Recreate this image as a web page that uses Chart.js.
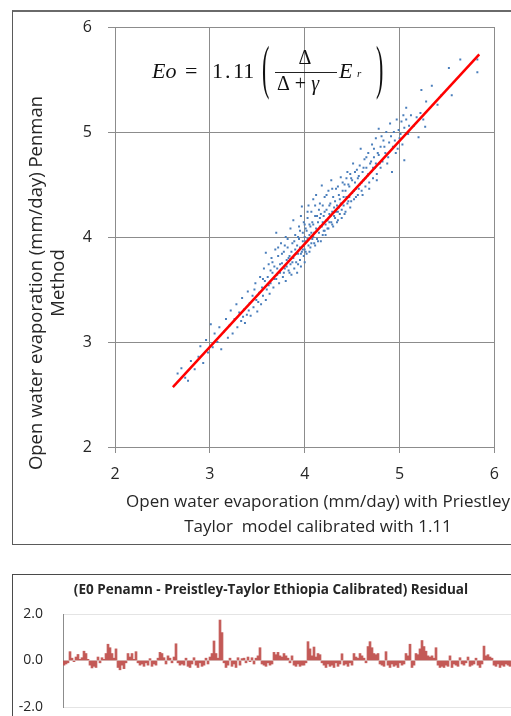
<!DOCTYPE html>
<html>
<head>
<meta charset="utf-8">
<script src="https://cdn.jsdelivr.net/npm/chart.js@4"></script>
<style>
  html, body { margin: 0; padding: 0; background: #fff; width: 511px; height: 716px; overflow: hidden; position: relative; }
  .frame { position: absolute; box-sizing: border-box; }
  #f1 { left: 12px; top: 10px; width: 540px; height: 535px; border: 1px solid #5a5a5a; border-top: 2px solid #6a6a6a; }
  #f2 { left: 12px; top: 574px; width: 540px; height: 200px; border: 1px solid #4a4a4a; }
  canvas { position: absolute; left: 0; }
  #c1 { top: 0; }
  #c2 { top: 575px; }
</style>
</head>
<body>
<div class="frame" id="f1"></div>
<div class="frame" id="f2"></div>
<canvas id="c1" width="511" height="548"></canvas>
<canvas id="c2" width="511" height="141"></canvas>
<script>
// ---------- Scatter: Priestley-Taylor (x) vs Penman (y), mm/day ----------
const ptValues = [
  2.66,2.70,2.74,2.77,2.80,2.84,2.88,2.90,2.93,2.96,2.98,3.01,3.03,3.05,3.08,3.10,3.12,3.15,3.17,3.19,
  3.21,3.22,3.24,3.26,3.28,3.29,3.31,3.33,3.34,3.36,3.37,3.39,3.40,3.42,3.43,3.45,3.46,3.48,3.49,3.50,
  3.52,3.53,3.54,3.55,3.56,3.57,3.58,3.59,3.59,3.60,
  3.61,3.62,3.63,3.64,3.65,3.66,3.67,3.68,3.69,3.70,3.70,3.71,3.72,3.73,3.74,3.75,3.76,3.77,3.78,3.79,
  3.80,3.80,3.81,3.82,3.83,3.84,3.85,3.85,3.86,3.87,3.88,3.88,3.89,3.90,3.90,3.91,3.92,3.92,3.93,3.94,
  3.94,3.95,3.95,3.96,3.96,3.97,3.97,3.98,3.98,3.99,3.99,4.00,4.00,4.00,4.00,
  4.01,4.02,4.02,4.03,4.04,4.04,4.05,4.06,4.06,4.07,4.08,4.08,4.09,4.10,4.10,4.11,4.12,4.12,4.13,4.14,
  4.15,4.15,4.16,4.17,4.18,4.18,4.19,4.20,4.20,4.21,4.22,4.22,4.23,4.24,4.25,4.25,4.26,4.27,4.28,4.28,
  4.29,4.30,4.30,4.31,4.32,4.33,4.34,4.34,4.35,4.36,4.37,4.38,4.38,4.39,4.40,
  4.41,4.42,4.43,4.44,4.45,4.46,4.47,4.48,4.49,4.50,4.51,4.52,4.53,4.54,4.55,4.56,4.57,4.58,4.59,4.60,
  4.61,4.62,4.63,4.64,4.65,4.66,4.67,4.68,4.69,4.70,4.71,4.72,4.73,4.74,4.75,4.76,4.77,4.78,4.79,4.80,
  4.82,4.83,4.85,4.86,4.88,4.89,4.90,4.92,4.93,4.94,4.95,4.97,4.98,4.99,5.00,5.02,5.03,5.05,5.05,5.07,
  5.07,5.09,5.12,5.15,5.18,
  5.20,5.22,5.23,5.25,5.27,5.28,5.34,5.40,5.44,5.52,5.55,5.64,5.82,5.82,
  3.35,3.41,3.47,3.51,3.56,3.62,3.64,3.66,3.68,3.71,3.72,3.74,3.76,3.78,3.79,3.81,3.82,3.83,3.84,3.86,
  3.87,3.89,3.91,3.93,3.93,3.95,3.96,3.98,3.99,4.01,4.01,4.03,4.03,4.05,4.05,4.07,4.07,4.09,4.09,4.11,
  4.11,4.13,4.13,4.14,4.16,4.16,4.17,4.19,4.19,4.21,4.21,4.23,4.23,4.24,4.26,4.26,4.27,4.29,4.29,4.31,
  4.32,4.33,4.35,4.35,4.36,4.37,4.39,4.40,4.41,4.42,4.43,4.44,4.45,4.46,4.47,4.48,4.49,4.50,4.52,4.53,
  4.54,4.56,4.57,4.58,4.60,4.61,4.62,4.64,4.65,4.67,4.68,4.70,4.72,4.73,4.75,4.76,4.78,4.80,4.81,4.84,
  4.87,4.91,4.96,5.01,5.04,5.10
];
const penmanValues = [
  2.70,2.75,2.66,2.63,2.82,2.74,2.86,2.96,2.80,3.02,2.90,3.17,2.95,3.08,3.00,3.14,2.93,3.10,3.22,3.04,
  3.16,3.30,3.08,3.22,3.36,3.14,3.28,3.20,3.42,3.31,3.18,3.26,3.48,3.37,3.25,3.44,3.33,3.56,3.40,3.29,
  3.47,3.62,3.36,3.52,3.44,3.70,3.58,3.85,3.40,3.50,
  3.62,3.74,3.46,3.56,3.80,3.66,3.52,3.72,3.88,4.04,3.60,3.70,3.82,3.56,3.66,3.94,3.75,3.62,3.86,3.70,
  4.00,3.58,3.78,3.90,3.68,3.82,4.08,3.74,3.64,3.94,3.80,4.16,3.70,3.88,4.02,3.76,3.92,3.66,3.84,4.10,
  3.98,3.78,3.90,4.20,3.72,4.29,3.86,3.96,4.04,3.82,3.92,4.12,3.76,3.88,4.00,
  3.96,4.06,3.84,4.18,3.92,4.30,4.02,3.90,4.10,4.24,3.98,4.14,4.36,4.04,3.94,4.20,4.08,4.40,3.98,4.14,
  4.26,4.04,4.18,3.96,4.49,4.10,4.30,4.06,4.20,4.38,4.12,4.02,4.26,4.16,4.44,4.08,4.22,4.32,4.14,4.54,
  4.24,4.10,4.38,4.28,4.18,4.46,4.30,4.14,4.24,4.40,4.22,4.57,4.32,4.18,4.44,
  4.30,4.50,4.24,4.38,4.62,4.34,4.48,4.28,4.56,4.42,4.70,4.36,4.52,4.46,4.64,4.40,4.58,4.50,4.84,4.44,
  4.62,4.54,4.74,4.48,4.66,4.58,4.80,4.52,4.70,4.62,4.88,4.56,4.76,4.66,4.94,4.60,4.80,5.03,4.70,4.86,
  4.72,4.92,4.80,5.00,4.76,4.90,5.08,4.62,4.86,5.00,4.92,5.12,4.84,5.02,4.94,5.10,4.88,4.73,5.04,5.23,
  5.12,4.98,5.16,5.06,5.14,
  4.95,5.18,5.40,5.12,5.05,5.29,5.44,5.26,5.35,5.61,5.35,5.69,5.69,5.57,
  3.24,3.30,3.50,3.38,3.60,3.54,3.68,3.76,3.60,3.64,3.90,3.74,3.84,3.66,3.92,3.72,3.98,3.80,3.66,3.86,
  3.76,3.96,3.84,3.74,4.00,4.06,3.84,3.88,4.14,3.86,4.08,3.98,4.24,4.12,3.86,4.04,3.94,4.12,4.00,4.30,
  3.92,4.20,4.06,3.96,4.10,4.32,4.22,4.02,4.14,4.24,4.06,4.16,4.40,4.08,4.30,4.14,4.20,4.46,4.12,4.20,
  4.34,4.24,4.16,4.48,4.28,4.36,4.26,4.52,4.38,4.22,4.44,4.56,4.32,4.50,4.38,4.60,4.34,4.54,4.44,4.62,
  4.38,4.56,4.46,4.68,4.52,4.40,4.66,4.56,4.76,4.60,4.46,4.72,4.66,4.84,4.70,4.54,4.78,4.66,4.96,4.86,
  4.70,4.96,4.80,4.98,5.16,5.06
];
// Fitted line end points (x, y)
const fitX = [2.61, 5.84];
const fitY = [2.57, 5.74];
const axisTicks = [2, 3, 4, 5, 6];

// ---------- Residual series (Penman - Priestley-Taylor calibrated) ----------
const residuals = [
  -0.2,-0.15,-0.1,0.38,0.1,-0.05,0.15,0.26,0.05,0.12,
  0.4,0.3,0.05,-0.2,-0.32,-0.25,-0.3,0.15,-0.1,0.12,
  0.05,0.3,0.7,0.55,0.3,0.1,0.5,-0.3,-0.4,-0.2,
  -0.35,-0.1,0.3,0.15,0.3,0.05,0.38,-0.1,-0.2,-0.15,
  -0.25,-0.1,-0.2,0.08,-0.25,-0.15,-0.2,0.1,0.35,0.3,
  0.12,-0.15,0.2,0.1,-0.1,0.15,0.72,-0.1,-0.2,-0.15,
  -0.2,0.1,-0.25,-0.3,-0.15,0.12,-0.2,-0.3,-0.1,-0.25,
  -0.2,0.1,-0.15,0.15,0.3,0.84,0.3,0.1,1.74,1.2,
  -0.1,-0.3,-0.2,0.1,-0.25,-0.15,-0.3,0.12,-0.2,0.08,
  0.1,-0.1,0.15,-0.05,0.12,-0.15,0.1,0.2,0.55,-0.15,
  -0.2,-0.25,-0.1,-0.2,-0.15,0.35,0.25,0.35,0.2,0.15,
  0.3,0.2,0.1,-0.1,0.2,-0.2,-0.25,-0.15,-0.25,-0.2,
  -0.2,-0.1,0.81,0.5,0.2,0.58,0.15,0.3,0.25,-0.1,
  -0.2,-0.3,-0.15,-0.25,-0.2,-0.3,-0.1,-0.25,-0.15,0.29,
  -0.2,-0.15,-0.25,-0.1,-0.2,0.3,0.15,0.1,0.3,0.2,
  0.1,-0.1,0.6,0.81,0.55,0.3,0.25,0.3,-0.15,-0.2,
  -0.25,0.38,-0.2,-0.3,-0.15,-0.25,-0.2,-0.3,-0.1,-0.2,
  -0.15,0.3,0.2,0.7,-0.3,-0.2,0.3,0.25,0.5,0.86,
  0.6,0.4,0.2,0.15,0.2,0.1,0.55,-0.2,-0.3,-0.25,
  -0.3,-0.2,-0.25,0.2,-0.3,-0.15,-0.2,-0.25,0.12,-0.15,
  -0.2,-0.1,0.15,-0.25,-0.2,-0.15,0.1,-0.2,-0.3,-0.15,
  0.62,0.2,0.25,0.15,0.1,-0.2,-0.25,-0.15,-0.3,-0.2,-0.25,-0.15,-0.2,-0.25
];
const residualTicks = [-2, 0, 2];

const yTitleLines = ['Open water evaporation (mm/day) Penman', 'Method'];
const xTitleLines = ['Open water evaporation (mm/day) with Priestley', 'Taylor  model calibrated with 1.11'];
const residualTitle = '(E0 Penamn - Preistley-Taylor Ethiopia Calibrated) Residual';

const FONT = "'Open Sans', 'DejaVu Sans', sans-serif";
const SERIF = "'Liberation Serif', 'DejaVu Serif', serif";

const scatterPts = ptValues.map((x, i) => ({ x: x, y: penmanValues[i] }));
const fitPts = fitX.map((x, i) => ({ x: x, y: fitY[i] }));

const decorPlugin = {
  id: 'decor',
  afterDraw(chart) {
    const ctx = chart.ctx;
    ctx.save();
    ctx.fillStyle = '#262626';
    ctx.textAlign = 'center';
    ctx.textBaseline = 'middle';
    // y title (rotated)
    ctx.save();
    ctx.translate(37, 283);
    ctx.rotate(-Math.PI / 2);
    ctx.font = '18.5px ' + FONT;
    ctx.fillText(yTitleLines[0], 0, 0);
    ctx.fillText(yTitleLines[1], 0, 22);
    ctx.restore();
    // x title
    ctx.font = '17px ' + FONT;
    ctx.fillText(xTitleLines[0], 318, 502);
    ctx.fillText(xTitleLines[1], 318, 527);

    // Equation
    ctx.fillStyle = '#111';
    ctx.textAlign = 'left';
    ctx.textBaseline = 'alphabetic';
    ctx.font = 'italic 22px ' + SERIF;
    ctx.fillText('Eo', 152, 78);
    ctx.font = '22px ' + SERIF;
    ctx.fillText('=', 185, 78);
    ctx.fillText('1', 212, 78);
    ctx.fillText('.', 225, 78);
    ctx.fillText('11', 233, 78);
    // big parentheses (thin, tall)
    ctx.font = '34px ' + SERIF;
    ctx.textBaseline = 'middle';
    ctx.save(); ctx.translate(262, 71); ctx.scale(0.65, 1.75); ctx.fillText('(', 0, 0); ctx.restore();
    ctx.save(); ctx.translate(376, 71); ctx.scale(0.65, 1.75); ctx.fillText(')', 0, 0); ctx.restore();
    ctx.textBaseline = 'alphabetic';
    // fraction
    ctx.font = '20px ' + SERIF;
    ctx.textAlign = 'center';
    ctx.fillText('\u0394', 305, 64);
    ctx.beginPath();
    ctx.moveTo(275, 72.5); ctx.lineTo(337, 72.5);
    ctx.lineWidth = 1; ctx.strokeStyle = '#222'; ctx.stroke();
    ctx.textAlign = 'left';
    ctx.fillText('\u0394 + ', 277, 90);
    const w = ctx.measureText('\u0394 + ').width;
    ctx.font = 'italic 20px ' + SERIF;
    ctx.fillText('\u03B3', 277 + w, 90);
    ctx.font = 'italic 22px ' + SERIF;
    ctx.fillText('E', 339, 78);
    ctx.font = 'italic 11px ' + SERIF;
    ctx.fillText('r', 357, 77);
    ctx.restore();
  }
};

new Chart(document.getElementById('c1'), {
  type: 'scatter',
  data: {
    datasets: [
      {
        label: 'Penman vs Priestley-Taylor',
        data: scatterPts,
        backgroundColor: '#4a7ebb',
        borderWidth: 0,
        pointStyle: 'rect',
        pointRadius: 1.4,
        order: 2
      },
      {
        type: 'line',
        label: 'Fit',
        data: fitPts,
        borderColor: '#ff0000',
        borderWidth: 2.5,
        pointRadius: 0,
        fill: false,
        order: 1
      }
    ]
  },
  options: {
    responsive: false,
    animation: false,
    layout: { padding: { top: 27, right: 15, left: 0, bottom: 0 } },
    plugins: { legend: { display: false }, tooltip: { enabled: false } },
    scales: {
      x: {
        type: 'linear', min: 2, max: 6,
        afterBuildTicks: s => { s.ticks = axisTicks.map(v => ({ value: v })); },
        afterFit: s => { s.height = 101; },
        ticks: { font: { size: 16, family: FONT }, color: '#262626', padding: 12 },
        grid: { color: '#8c8c8c', tickLength: 6, lineWidth: 1 },
        border: { color: '#8c8c8c' }
      },
      y: {
        type: 'linear', min: 2, max: 6,
        afterBuildTicks: s => { s.ticks = axisTicks.map(v => ({ value: v })); },
        afterFit: s => { s.width = 115; },
        ticks: { font: { size: 16, family: FONT }, color: '#262626', padding: 16 },
        grid: { color: '#8c8c8c', tickLength: 7, lineWidth: 1 },
        border: { color: '#8c8c8c' }
      }
    }
  },
  plugins: [decorPlugin]
});

const residualTitlePlugin = {
  id: 'residualTitle',
  afterDraw(chart) {
    const ctx = chart.ctx;
    ctx.save();
    ctx.fillStyle = '#262626';
    ctx.font = 'bold 13.5px ' + FONT;
    ctx.textAlign = 'center';
    ctx.textBaseline = 'middle';
    ctx.fillText(residualTitle, 271, 15);
    ctx.restore();
  }
};

new Chart(document.getElementById('c2'), {
  type: 'bar',
  data: {
    labels: residuals.map((_, i) => i + 1),
    datasets: [{
      label: 'Residual',
      data: residuals,
      backgroundColor: 'rgba(192,80,77,0.92)',
      borderWidth: 0,
      categoryPercentage: 1,
      barPercentage: 1
    }]
  },
  options: {
    responsive: false,
    animation: false,
    layout: { padding: { top: 39, left: 0, right: 0, bottom: 9 } },
    plugins: {
      legend: { display: false },
      tooltip: { enabled: false },
      title: { display: false }
    },
    scales: {
      x: { display: false },
      y: {
        min: -2, max: 2,
        afterBuildTicks: s => { s.ticks = residualTicks.map(v => ({ value: v })); },
        afterFit: s => { s.width = 63; },
        ticks: { font: { size: 14, family: FONT }, color: '#262626', padding: 0, callback: v => Number(v).toFixed(1) },
        grid: { color: '#e4e4e4', drawTicks: true, tickLength: 20, tickColor: 'rgba(0,0,0,0)' },
        border: { color: '#8c8c8c' }
      }
    }
  },
  plugins: [residualTitlePlugin]
});
</script>
</body>
</html>
